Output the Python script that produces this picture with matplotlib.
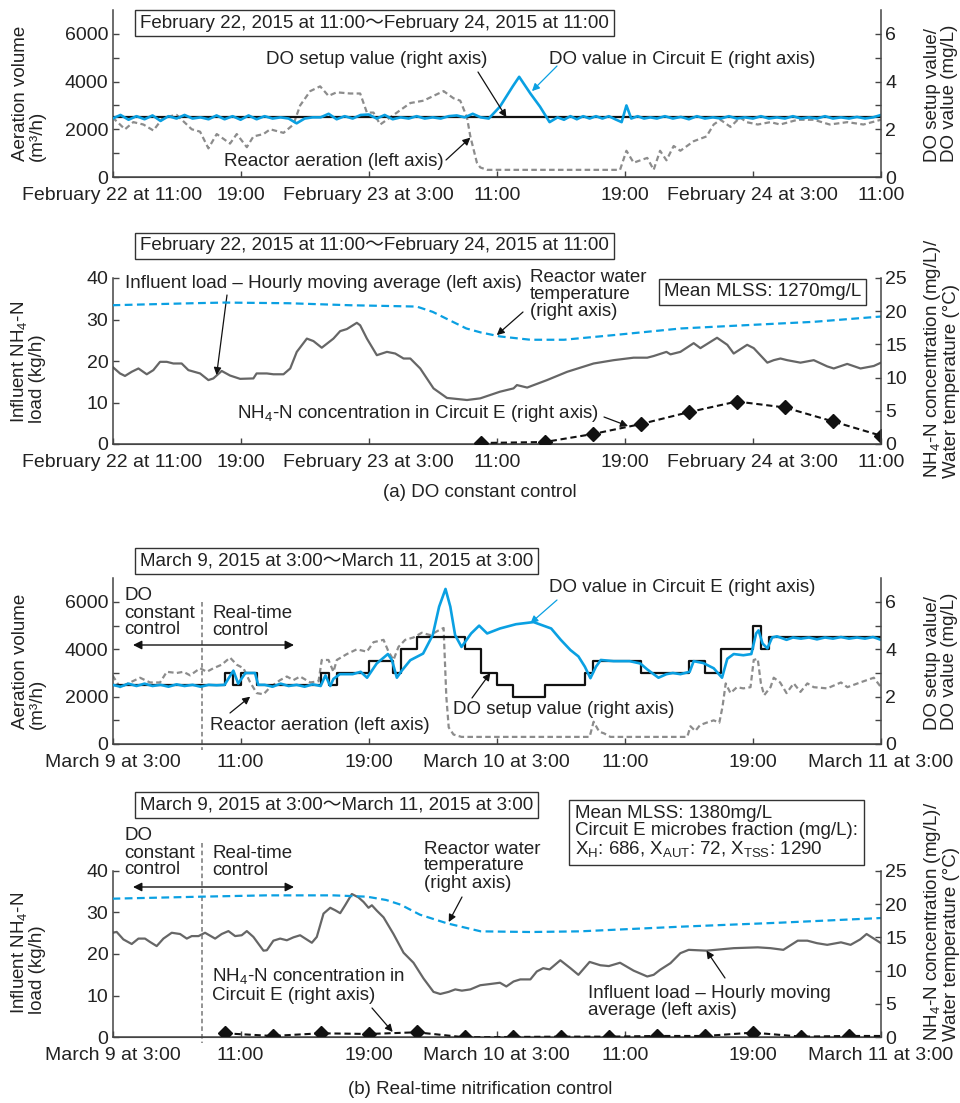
import matplotlib
matplotlib.use('Agg')
import matplotlib.pyplot as plt

plt.rcParams['font.family'] = ['Liberation Sans', 'Noto Sans CJK JP', 'DejaVu Sans']
plt.rcParams['mathtext.fontset'] = 'custom'
plt.rcParams['mathtext.rm'] = 'Liberation Sans'
plt.rcParams['mathtext.it'] = 'Liberation Sans'
plt.rcParams['mathtext.default'] = 'regular'
plt.rcParams['text.color'] = '#222222'
plt.rcParams['axes.edgecolor'] = '#444444'

# ---------------- DATA ----------------
xticks_h = [0, 8, 16, 24, 32, 40, 48]
xlabels_a = ['February 22 at 11:00', '19:00', 'February 23 at 3:00', '11:00',
             '19:00', 'February 24 at 3:00', '11:00']
xlabels_b = ['March 9 at 3:00', '11:00', '19:00', 'March 10 at 3:00', '11:00',
             '19:00', 'March 11 at 3:00']

# (a) panel 1
a_set_t = [0, 48]
a_set_v = [2.5, 2.5]
a_do_t = [0, 0.5, 1.0, 1.5, 2.0, 2.5, 3.0, 3.5, 4.0, 4.5, 5.0, 5.5, 6.0, 6.5, 7.0, 7.5, 8.0,
          8.5, 9.0, 9.5, 10.0, 10.5, 11.0, 11.5, 12.0, 12.5, 13.0, 13.5, 14.0, 14.5, 15.0,
          15.5, 16.0, 16.5, 17.0, 17.5, 18.0, 18.5, 19.0, 19.5, 20.0, 20.5, 21.0, 21.5,
          22.0, 22.5, 23.0, 23.5, 24.2, 25.0, 25.4, 26.1, 26.7, 27.3, 27.8, 28.2, 28.6,
          29.0, 29.4, 29.8, 30.2, 30.6, 31.0, 31.4, 31.8, 32.1, 32.4, 32.8, 33.2, 33.6,
          34.0, 34.5, 35.0, 35.5, 36.0, 36.5, 37.0, 37.5, 38.0, 38.5, 39.0, 39.5, 40.0,
          40.5, 41.0, 41.5, 42.0, 42.5, 43.0, 43.5, 44.0, 44.5, 45.0, 45.5, 46.0, 46.5,
          47.0, 47.5, 48.0]
a_do_v = [2.45, 2.6, 2.4, 2.55, 2.42, 2.58, 2.35, 2.55, 2.45, 2.6, 2.45, 2.5, 2.42, 2.58,
          2.42, 2.55, 2.4, 2.58, 2.42, 2.55, 2.45, 2.5, 2.45, 2.25, 2.45, 2.5, 2.5, 2.65,
          2.42, 2.55, 2.45, 2.6, 2.62, 2.45, 2.6, 2.42, 2.5, 2.45, 2.55, 2.45, 2.5, 2.45,
          2.55, 2.58, 2.5, 2.65, 2.5, 2.45, 2.95, 3.8, 4.2, 3.5, 2.95, 2.3, 2.5, 2.4, 2.55,
          2.42, 2.55, 2.45, 2.55, 2.45, 2.55, 2.42, 2.3, 3.0, 2.45, 2.55, 2.45, 2.5, 2.45,
          2.55, 2.45, 2.52, 2.42, 2.55, 2.45, 2.5, 2.45, 2.55, 2.45, 2.5, 2.45, 2.55, 2.45,
          2.5, 2.45, 2.55, 2.45, 2.5, 2.45, 2.55, 2.45, 2.5, 2.45, 2.52, 2.45, 2.5, 2.6]
a_air_t = [0, 0.78, 1.3, 1.93, 2.55, 3.18, 4.01, 4.64, 4.95, 5.47, 5.99, 6.51, 6.93, 7.34,
           7.76, 8.39, 8.8, 9.43, 9.85, 10.68, 11.3, 11.72, 12.35, 12.97, 13.49, 14.0,
           14.84, 15.47, 15.89, 16.3, 16.72, 17.35, 17.97, 18.6, 19.43, 20.05, 20.68, 21.3,
           21.72, 22.14, 22.35, 22.76, 22.97, 23.4, 31.7, 32.1, 32.55, 32.97, 33.4, 33.8,
           34.2, 34.6, 35.05, 35.47, 36.3, 37.1, 37.55, 37.97, 38.6, 39.2, 39.6, 40.3,
           41.1, 41.7, 42.8, 43.8, 44.8, 45.9, 46.9, 48.0]
a_air_v = [2500, 2000, 2300, 2200, 1950, 2500, 2600, 2200, 2000, 1900, 1200, 1800, 1600,
           1400, 1800, 1250, 1700, 1800, 2000, 1850, 2200, 3000, 3600, 3800, 3400, 3550,
           3500, 3500, 2700, 2700, 2200, 2500, 2800, 3100, 3200, 3400, 3600, 3300, 3200,
           2500, 1700, 600, 400, 300, 300, 1100, 600, 700, 800, 300, 1100, 700, 1300, 1100,
           1500, 1700, 2200, 2400, 2100, 2500, 2300, 2200, 2300, 2200, 2400, 2400, 2200,
           2300, 2200, 2400]

# (a) panel 2
a_load_t = [0, 0.47, 0.78, 1.2, 1.62, 2.14, 2.55, 2.97, 3.39, 3.8, 4.32, 4.74, 5.47, 5.99,
            6.3, 6.82, 7.34, 7.97, 8.8, 9.0, 9.64, 10.05, 10.68, 11.1, 11.51, 12.14, 12.55,
            13.07, 13.8, 14.22, 14.64, 15.26, 15.47, 15.89, 16.51, 17.14, 17.66, 18.18,
            18.6, 19.22, 20.05, 20.89, 22.14, 22.97, 24.2, 25.05, 25.26, 25.9, 27.14, 28.4,
            30.05, 31.3, 32.55, 33.4, 33.8, 34.6, 34.85, 35.47, 36.3, 36.72, 37.55, 37.76,
            38.4, 38.8, 39.64, 40.05, 40.9, 41.3, 41.72, 42.14, 42.97, 43.8, 44.64, 45.05,
            45.89, 46.72, 47.55, 48.0]
a_load_v = [18.6, 17.0, 16.4, 17.4, 18.2, 16.8, 17.8, 19.8, 19.8, 19.4, 19.4, 17.8, 17.0,
            15.4, 15.8, 17.6, 16.5, 15.7, 15.8, 17.0, 17.0, 16.8, 16.8, 18.2, 22.2, 25.4,
            24.8, 23.2, 25.4, 27.2, 27.7, 29.2, 28.6, 25.4, 21.4, 22.2, 21.8, 20.6, 20.6,
            18.2, 13.4, 11.1, 10.6, 11.0, 12.6, 13.4, 14.2, 13.6, 15.4, 17.4, 19.4, 20.2,
            20.8, 20.8, 21.2, 22.2, 21.6, 22.2, 24.3, 23.1, 25.1, 25.6, 23.9, 21.8, 23.9,
            23.1, 19.6, 20.2, 20.6, 20.2, 19.6, 20.2, 18.7, 18.2, 19.3, 18.2, 18.8, 19.6]
a_temp_t = [0, 5, 7, 11, 14.8, 19, 20, 21, 22.1, 23.0, 24.2, 26.1, 28.2, 31.3, 35.5, 39.6,
            43.8, 48]
a_temp_v = [20.9, 21.2, 21.3, 21.2, 20.9, 20.7, 19.9, 18.7, 17.4, 16.8, 16.2, 15.7, 15.7,
            16.4, 17.4, 17.9, 18.4, 19.2]
a_nh4_t = [23, 27, 30, 33, 36, 39, 42, 45, 48]
a_nh4_v = [0.15, 0.3, 1.5, 3.0, 4.8, 6.4, 5.5, 3.4, 1.25]

# (b) panel 3
b_set_t = [0, 7, 7.5, 8, 9, 13, 13.5, 14, 16, 17.5, 18, 19, 22, 23, 24, 25, 27, 29.5, 30,
           33, 36, 37, 38, 40, 40.5, 41, 48]
b_set_v = [2.5, 3.0, 2.5, 3.0, 2.5, 3.0, 2.5, 3.0, 3.5, 3.0, 4.0, 4.5, 4.0, 3.0, 2.5, 2.0,
           2.5, 3.0, 3.5, 3.0, 3.5, 3.0, 4.0, 5.0, 4.0, 4.5, 4.5]
b_do_t = [0, 0.5, 1.0, 1.5, 2.0, 2.5, 3.0, 3.5, 4.0, 4.5, 5.0, 5.5, 6.0, 6.5, 7.0, 7.55,
          7.85, 8.3, 8.9, 9.1, 9.5, 10, 10.5, 11, 11.5, 12, 12.5, 13.0, 13.3, 13.6, 13.8,
          14.2, 15.0, 15.5, 15.9, 16.5, 17.2, 17.45, 17.76, 18.07, 18.6, 19.4, 20.0, 20.4,
          20.8, 21.1, 21.4, 21.8, 22.4, 22.9, 23.4, 24.2, 25.2, 26.3, 27.4, 28.0, 28.6,
          29.1, 29.5, 29.85, 30.2, 30.5, 31.3, 32.3, 32.97, 33.4, 34.1, 34.6, 35.0, 35.47,
          36.05, 36.3, 36.9, 37.55, 38.07, 38.4, 38.8, 39.4, 39.9, 40.2, 40.35, 40.6, 40.9,
          41.2, 41.5, 42.1, 42.5, 43, 43.5, 44, 44.5, 45, 45.5, 46, 46.5, 47, 47.5, 48]
b_do_v = [2.5, 2.42, 2.55, 2.45, 2.55, 2.45, 2.5, 2.42, 2.52, 2.45, 2.5, 2.42, 2.5, 2.48,
          2.5, 3.1, 2.55, 3.0, 3.0, 2.5, 2.5, 2.42, 2.55, 2.45, 2.5, 2.42, 2.52, 2.45, 2.9,
          2.45, 2.75, 2.95, 2.95, 3.05, 2.8, 3.4, 3.8, 3.55, 2.8, 3.1, 3.54, 3.82, 4.6, 5.8,
          6.55, 5.8, 4.6, 4.1, 4.67, 5.0, 4.67, 4.88, 5.06, 5.15, 4.88, 4.4, 3.97, 3.7,
          3.27, 2.78, 3.27, 3.55, 3.5, 3.5, 3.4, 3.15, 2.8, 2.95, 3.0, 2.95, 3.05, 3.5,
          3.42, 3.2, 2.8, 3.6, 3.8, 3.75, 3.8, 4.67, 4.8, 4.25, 4.04, 4.5, 4.55, 4.4, 4.5,
          4.45, 4.5, 4.42, 4.5, 4.45, 4.52, 4.45, 4.5, 4.45, 4.52, 4.4]
b_air_t = [0, 0.47, 1.1, 1.72, 2.34, 2.97, 3.39, 4.01, 4.43, 4.85, 5.47, 5.89, 6.3, 6.82,
           7.34, 7.76, 8.18, 8.6, 9.01, 9.43, 9.85, 10.47, 10.89, 11.3, 11.72, 12.35,
           12.87, 13.07, 13.49, 13.8, 14.01, 14.64, 15.26, 15.89, 16.3, 16.93, 17.24,
           17.55, 17.86, 18.28, 18.8, 19.32, 19.84, 20.37, 20.68, 20.85, 21.0, 21.3, 21.8,
           29.8, 30.05, 30.4, 30.7, 31.1, 35.9, 36.1, 36.4, 36.7, 37.1, 37.55, 37.9, 38.1,
           38.3, 38.6, 39.0, 39.4, 39.85, 40.05, 40.3, 40.5, 40.7, 41.1, 41.3, 41.7, 42.1,
           42.55, 42.97, 43.4, 43.8, 44.64, 45.5, 45.9, 46.7, 47.55, 48.0]
b_air_v = [2900, 2400, 2600, 2800, 2600, 2600, 3050, 3000, 3050, 2900, 3200, 3050, 3200,
           3350, 3650, 3350, 3200, 2600, 2150, 2100, 2400, 2700, 2850, 2700, 2850, 2600,
           2650, 3550, 3550, 3050, 3550, 3800, 4000, 3900, 4300, 4400, 3900, 3550, 4100,
           4400, 4500, 4700, 4600, 4800, 4900, 2000, 700, 400, 300, 300, 940, 520, 450, 300,
           300, 750, 550, 800, 900, 1000, 900, 1570, 2560, 2150, 2400, 2350, 2400, 3550,
           3600, 2560, 2060, 2400, 2800, 2600, 2150, 2560, 2200, 2560, 2400, 2350, 2600,
           2400, 2600, 2800, 2400]

# (b) panel 4
b_load_t = [0, 0.26, 0.68, 1.2, 1.62, 2.03, 2.34, 2.76, 3.18, 3.7, 4.22, 4.64, 4.95, 5.37,
            5.78, 6.41, 6.82, 7.24, 7.66, 8.07, 8.39, 8.8, 9.43, 9.64, 10.05, 10.47, 10.89,
            11.3, 11.72, 12.45, 12.76, 13.18, 13.6, 13.91, 14.22, 14.53, 14.95, 15.36,
            15.68, 15.99, 16.2, 16.51, 16.93, 17.55, 18.18, 18.8, 19.43, 20.05, 20.47,
            20.99, 21.41, 21.82, 22.35, 22.97, 23.6, 24.2, 24.6, 25.05, 25.47, 26.1, 26.5,
            26.9, 27.3, 27.97, 28.6, 29.1, 29.8, 30.47, 31.0, 31.7, 32.55, 33.4, 33.8, 34.2,
            34.85, 35.47, 35.99, 37.1, 38.8, 40.3, 41.1, 41.9, 42.8, 43.4, 44.0, 44.64,
            45.5, 46.1, 46.7, 47.1, 47.55, 48.0]
b_load_v = [25.1, 25.3, 23.5, 22.4, 23.7, 23.7, 22.9, 21.9, 23.7, 25.1, 24.8, 23.7, 24.3,
            24.3, 25.1, 23.7, 24.8, 25.5, 24.3, 24.5, 25.5, 24.1, 20.8, 20.9, 23.2, 23.7,
            23.3, 24.0, 24.5, 22.7, 24.1, 29.7, 31.1, 30.5, 29.8, 31.7, 34.4, 33.6, 32.5,
            31.1, 31.7, 30.4, 28.8, 24.8, 20.3, 17.9, 14.1, 10.9, 10.4, 10.9, 11.5, 11.2,
            11.5, 12.5, 12.8, 13.1, 12.2, 13.4, 13.9, 13.9, 15.8, 16.6, 16.3, 18.5, 16.6,
            15.0, 18.1, 17.3, 17.1, 17.9, 16.0, 14.6, 15.0, 16.2, 17.8, 20.2, 21.0, 20.8,
            21.4, 21.6, 21.4, 21.0, 23.2, 23.2, 22.6, 22.2, 22.8, 22.2, 23.5, 24.8, 23.7,
            22.6]
b_temp_t = [0, 5.5, 9.6, 13.8, 15.9, 17.1, 18.0, 19.2, 20.9, 23.0, 26.1, 29.2, 35.5, 41.7,
            48]
b_temp_v = [20.8, 21.1, 21.3, 21.3, 21.1, 20.6, 19.9, 18.4, 17.1, 15.9, 15.8, 15.9, 16.6,
            17.2, 17.9]
b_nh4_t = [7, 10, 13, 16, 19, 22, 25, 28, 31, 34, 37, 40, 43, 46, 48]
b_nh4_v = [0.6, 0.2, 0.6, 0.5, 0.75, 0.0, 0.05, 0.1, 0.1, 0.2, 0.2, 0.7, 0.1, 0.2, 0.2]
b_switch_h = 5.6

# ---------------- STYLE ----------------
W, H = 960, 1103
BLUE = '#0aa0e2'
GRAY = '#8c8c8c'
LOADC = '#666666'
FS = 13.5
TFS = 14

fig = plt.figure(figsize=(W / 100, H / 100), dpi=100)


def fp(x, y):
    return (x / W, 1 - y / H)


def mk_axes(top, bottom):
    return fig.add_axes([112.5 / W, 1 - bottom / H, 768.5 / W, (bottom - top) / H])


def style(ax, axr, xlabels):
    for a in (ax, axr):
        a.spines['top'].set_visible(False)
        a.set_xlim(0, 48)
        a.tick_params(direction='in', length=4, width=1, labelsize=TFS,
                      colors='#444444', labelcolor='#222222')
        a.tick_params(which='minor', direction='in', length=4, width=1, colors='#444444')
    ax.spines['right'].set_visible(False)
    axr.spines['left'].set_visible(False)
    for s in ['left', 'bottom']:
        ax.spines[s].set_linewidth(1.1)
    axr.spines['right'].set_linewidth(1.1)
    ax.set_xticks(xticks_h)
    ax.set_xticklabels(xlabels)
    ax.tick_params(axis='x', pad=7)
    ax.tick_params(axis='y', pad=3)
    axr.tick_params(axis='y', pad=3)


def arrow(ax, xy, txt_px, color='#111111'):
    ax.annotate('', xy=xy, xycoords='data', xytext=fp(*txt_px),
                textcoords='figure fraction',
                arrowprops=dict(arrowstyle='-|>', color=color, lw=0.9,
                                mutation_scale=11, shrinkA=0, shrinkB=0))


def dbl_arrow(x0, x1, y):
    fig.add_artist(matplotlib.patches.FancyArrowPatch(
        fp(x0, y), fp(x1, y), transform=fig.transFigure, arrowstyle='<|-|>',
        mutation_scale=13, color='#111111', lw=1.0, shrinkA=0, shrinkB=0))


def boxtext(x, y, s, **kw):
    fig.text(*fp(x, y), s, ha='left', va='center', fontsize=FS,
             bbox=dict(boxstyle='square,pad=0.25', fc='white', ec='#333333', lw=1.0), **kw)


def ftext(x, y, s, **kw):
    d = dict(ha='left', va='center', fontsize=FS, linespacing=1.0)
    d.update(kw)
    fig.text(*fp(x, y), s, **d)


def ylab(x, y, s):
    fig.text(*fp(x, y), s, rotation=90, ha='center', va='center', fontsize=FS,
             multialignment='left', linespacing=1.0)


# ---------------- PANEL 1 ----------------
ax1 = mk_axes(10, 177)
ax1r = ax1.twinx()
ax1.plot(a_air_t, a_air_v, color=GRAY, lw=1.6, dashes=(2.5, 1.5))
ax1r.plot(a_set_t, a_set_v, color='#111111', lw=1.6)
ax1r.plot(a_do_t, a_do_v, color=BLUE, lw=1.9)
ax1.set_ylim(0, 7000)
ax1r.set_ylim(0, 7)
ax1.set_yticks([0, 2000, 4000, 6000])
ax1.set_yticks([1000, 3000, 5000], minor=True)
ax1r.set_yticks([0, 2, 4, 6])
ax1r.set_yticks([1, 3, 5], minor=True)
style(ax1, ax1r, xlabels_a)
boxtext(140, 23, 'February 22, 2015 at 11:00～February 24, 2015 at 11:00')
ftext(266, 60, 'DO setup value (right axis)')
arrow(ax1r, (24.6, 2.5), (478, 72))
ftext(549, 60, 'DO value in Circuit E (right axis)')
arrow(ax1r, (26.2, 3.6), (557, 66), color=BLUE)
ftext(224, 161, 'Reactor aeration (left axis)')
arrow(ax1, (22.35, 1650), (446, 160))
ylab(29, 93, 'Aeration volume\n(m³/h)')
ylab(941, 93, 'DO setup value/\nDO value (mg/L)')

# ---------------- PANEL 2 ----------------
ax2 = mk_axes(278, 444)
ax2r = ax2.twinx()
ax2.plot(a_load_t, a_load_v, color=LOADC, lw=1.6)
ax2r.plot(a_temp_t, a_temp_v, color=BLUE, lw=1.6, dashes=(3.5, 2))
ax2r.plot(a_nh4_t, a_nh4_v, color='#111111', lw=1.5, dashes=(3, 1.8),
          marker='D', markersize=7.5, markerfacecolor='#111111')
ax2.set_ylim(0, 40)
ax2r.set_ylim(0, 25)
ax2.set_yticks([0, 10, 20, 30, 40])
ax2r.set_yticks([0, 5, 10, 15, 20, 25])
style(ax2, ax2r, xlabels_a)
for a in (ax2, ax2r):
    a.spines['bottom'].set_zorder(1)
boxtext(140, 246, 'February 22, 2015 at 11:00～February 24, 2015 at 11:00')
ftext(125, 284, 'Influent load – Hourly moving average (left axis)')
arrow(ax2, (6.5, 16.6), (227, 295))
ftext(530, 295, 'Reactor water\ntemperature\n(right axis)')
arrow(ax2r, (24.0, 16.4), (523, 312))
boxtext(664, 292, 'Mean MLSS: 1270mg/L')
ftext(237, 413, 'NH$_4$-N concentration in Circuit E (right axis)')
arrow(ax2r, (32.2, 2.7), (604, 417))
ylab(28, 362, 'Influent NH$_4$-N\nload (kg/h)')
ylab(941, 358, 'NH$_4$-N concentration (mg/L)/\nWater temperature (°C)')
ftext(480, 492, '(a) DO constant control', ha='center')

# ---------------- PANEL 3 ----------------
ax3 = mk_axes(578.3, 744)
ax3r = ax3.twinx()
ax3.plot(b_air_t, b_air_v, color=GRAY, lw=1.6, dashes=(2.5, 1.5))
ax3r.plot(b_set_t, b_set_v, color='#111111', lw=1.6, drawstyle='steps-post')
ax3r.plot(b_do_t, b_do_v, color=BLUE, lw=1.9)
ax3.set_ylim(0, 7000)
ax3r.set_ylim(0, 7)
ax3.set_yticks([0, 2000, 4000, 6000])
ax3.set_yticks([1000, 3000, 5000], minor=True)
ax3r.set_yticks([0, 2, 4, 6])
ax3r.set_yticks([1, 3, 5], minor=True)
style(ax3, ax3r, xlabels_b)
ax3.plot([b_switch_h, b_switch_h], [6000, -260], color='#777777', lw=1.1,
         dashes=(3, 2), clip_on=False)
boxtext(140, 561, 'March 9, 2015 at 3:00～March 11, 2015 at 3:00')
ftext(124, 613, 'DO\nconstant\ncontrol')
ftext(212, 622, 'Real-time\ncontrol')
dbl_arrow(133, 294, 645)
ftext(210, 725, 'Reactor aeration (left axis)')
arrow(ax3, (8.6, 2000), (230, 713))
ftext(549, 588, 'DO value in Circuit E (right axis)')
arrow(ax3r, (26.1, 5.1), (557, 600), color=BLUE)
ftext(453, 709, 'DO setup value (right axis)')
arrow(ax3r, (23.6, 3.0), (472, 698))
ylab(29, 661, 'Aeration volume\n(m³/h)')
ylab(941, 661, 'DO setup value/\nDO value (mg/L)')

# ---------------- PANEL 4 ----------------
ax4 = mk_axes(870.7, 1037.3)
ax4r = ax4.twinx()
ax4.plot(b_load_t, b_load_v, color=LOADC, lw=1.6)
ax4r.plot(b_temp_t, b_temp_v, color=BLUE, lw=1.6, dashes=(3.5, 2))
ax4r.plot(b_nh4_t, b_nh4_v, color='#111111', lw=1.5, dashes=(3, 1.8),
          marker='D', markersize=7.5, markerfacecolor='#111111',
          markevery=list(range(len(b_nh4_t) - 1)))
ax4.set_ylim(0, 40)
ax4r.set_ylim(0, 25)
ax4.set_yticks([0, 10, 20, 30, 40])
ax4r.set_yticks([0, 5, 10, 15, 20, 25])
style(ax4, ax4r, xlabels_b)
ax4.plot([b_switch_h, b_switch_h], [46.6, -1.4], color='#777777', lw=1.1,
         dashes=(3, 2), clip_on=False)
boxtext(140, 805, 'March 9, 2015 at 3:00～March 11, 2015 at 3:00')
ftext(124, 853, 'DO\nconstant\ncontrol')
ftext(212, 862, 'Real-time\ncontrol')
dbl_arrow(133, 294, 887)
ftext(424, 866, 'Reactor water\ntemperature\n(right axis)')
arrow(ax4r, (21.0, 17.3), (462, 897))
fig.text(*fp(575, 832),
         'Mean MLSS: 1380mg/L\nCircuit E microbes fraction (mg/L):\n'
         'X$_{H}$: 686, X$_{AUT}$: 72, X$_{TSS}$: 1290',
         ha='left', va='center', fontsize=FS, linespacing=1.0,
         bbox=dict(boxstyle='square,pad=0.3', fc='white', ec='#333333', lw=1.0))
ftext(212, 985, 'NH$_4$-N concentration in\nCircuit E (right axis)')
arrow(ax4r, (17.5, 0.8), (372, 1008))
ftext(588, 1002, 'Influent load – Hourly moving\naverage (left axis)')
arrow(ax4, (37.1, 20.8), (725, 978))
ylab(28, 953, 'Influent NH$_4$-N\nload (kg/h)')
ylab(941, 921, 'NH$_4$-N concentration (mg/L)/\nWater temperature (°C)')
ftext(480, 1090, '(b) Real-time nitrification control', ha='center')

fig.savefig('out.png', dpi=100)
